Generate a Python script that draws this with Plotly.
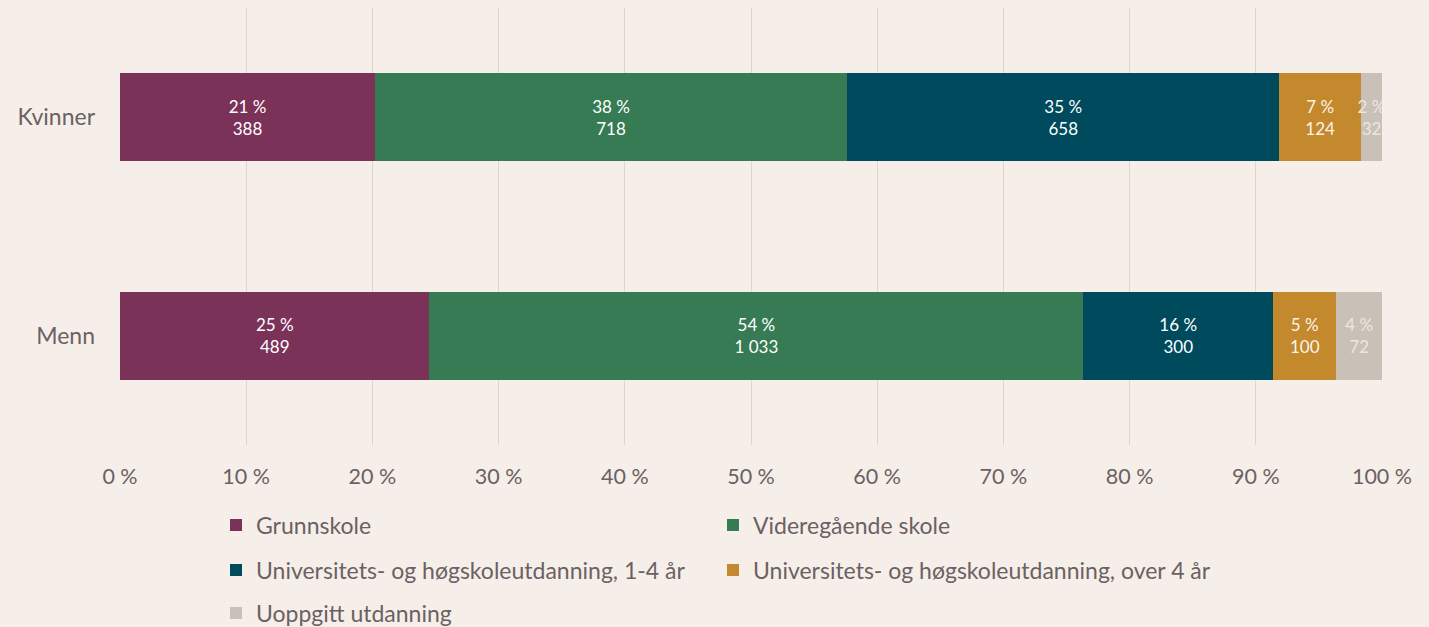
import plotly.graph_objects as go

groups = ["Kvinner", "Menn"]
series_names = [
    "Grunnskole",
    "Videregående skole",
    "Universitets- og høgskoleutdanning, 1-4 år",
    "Universitets- og høgskoleutdanning, over 4 år",
    "Uoppgitt utdanning",
]
grunnskole = [388, 489]
videregaende = [718, 1033]
uni_1_4 = [658, 300]
uni_over_4 = [124, 100]
uoppgitt = [32, 72]

pct_grunnskole = ["21 %", "25 %"]
pct_videregaende = ["38 %", "54 %"]
pct_uni_1_4 = ["35 %", "16 %"]
pct_uni_over_4 = ["7 %", "5 %"]
pct_uoppgitt = ["2 %", "4 %"]

colors = ["#7b3258", "#367b53", "#004a5e", "#c4892d", "#c9c1b8"]
text_colors = ["#ffffff", "#ffffff", "#ffffff", "#fbf3ea", "#ece6e1"]
legend_ids = ["legend", "legend", "legend2", "legend2", "legend3"]

series_values = [grunnskole, videregaende, uni_1_4, uni_over_4, uoppgitt]
series_pcts = [pct_grunnskole, pct_videregaende, pct_uni_1_4, pct_uni_over_4, pct_uoppgitt]

FONT = "Lato, 'Open Sans', sans-serif"
TXT = "#6b6163"
BG = "#f6efe9"


def fmt(n):
    return f"{n:,}".replace(",", "\u00a0")


fig = go.Figure()
for name, vals, pcts, col, tcol, lg in zip(series_names, series_values, series_pcts,
                                          colors, text_colors, legend_ids):
    fig.add_trace(go.Bar(
        y=groups, x=vals, orientation="h", name=name,
        marker=dict(color=col, line=dict(width=0)),
        text=[f"{p}<br>{fmt(v)}" for p, v in zip(pcts, vals)],
        textposition="inside", insidetextanchor="middle",
        constraintext="none",
        textfont=dict(color=tcol, size=17, family=FONT),
        hoverinfo="skip", legend=lg,
    ))

PLOT_TOP, PLOT_BOTTOM, PLOT_H = 8, 445, 437


def ypaper(px):
    return (PLOT_BOTTOM - px) / PLOT_H


leg_common = dict(orientation="h", xanchor="left", x=(216 - 120) / 1262, yanchor="middle",
                  font=dict(size=23, color=TXT, family=FONT),
                  entrywidth=452, entrywidthmode="pixels",
                  bgcolor="rgba(0,0,0,0)", traceorder="normal")

fig.update_layout(
    barmode="stack", barnorm="percent", bargap=0.596,
    width=1429, height=627,
    margin=dict(l=120, r=47, t=PLOT_TOP, b=627 - PLOT_BOTTOM, autoexpand=False),
    paper_bgcolor=BG, plot_bgcolor=BG,
    font=dict(family=FONT, color=TXT, size=20),
    legend=dict(y=ypaper(525), **leg_common),
    legend2=dict(y=ypaper(570), **leg_common),
    legend3=dict(y=ypaper(613), **leg_common),
    showlegend=True,
)
fig.update_xaxes(range=[0, 100], dtick=10, ticksuffix=" %", showgrid=True,
                 gridcolor="#dcd6d1", gridwidth=1, zeroline=False,
                 ticklabelstandoff=16, tickfont=dict(size=21.5, color=TXT, family=FONT),
                 fixedrange=True)
fig.update_yaxes(autorange="reversed", showgrid=False, ticklabelstandoff=24,
                 tickfont=dict(size=23, color=TXT, family=FONT), fixedrange=True)

fig.write_html(
    "out.html",
    config={"displayModeBar": False},
    post_script=f"document.body.style.margin='0';document.body.style.background='{BG}';",
)
